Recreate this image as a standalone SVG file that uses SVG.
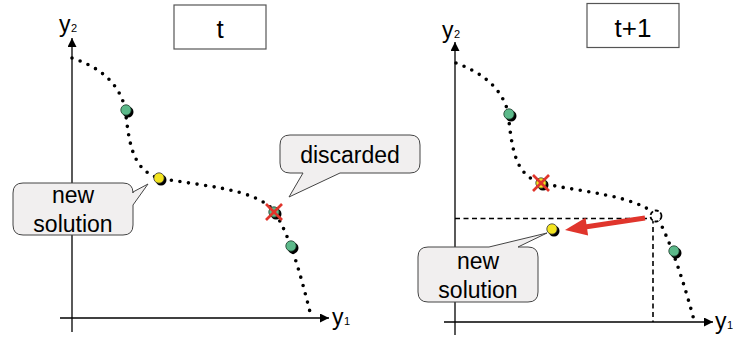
<svg xmlns="http://www.w3.org/2000/svg" width="733" height="338" viewBox="0 0 733 338">
<defs>
<style>
text{font-family:"Liberation Sans",Arial,sans-serif;fill:#000}
.lbl{font-size:23px;text-anchor:middle}
.ax{stroke:#000;stroke-width:1.3;fill:none}
.front{stroke:#000;stroke-width:3.6;fill:none;stroke-linecap:round;stroke-dasharray:0 8.6}
.dash{stroke:#000;stroke-width:1.6;fill:none;stroke-dasharray:5 3.5}
.box{fill:#fff;stroke:#555;stroke-width:1.2}
.call{fill:#f1efef;stroke:#444;stroke-width:1}
.g{fill:#5cb98a;stroke:#1a3a2a;stroke-width:0.8}
.y{fill:#f3e41f;stroke:#333;stroke-width:0.8}
.sh{fill:#000}
.x{stroke:#e0352c;stroke-width:2.6;stroke-linecap:butt}
</style>
<marker id="ah" viewBox="0 0 10 10" refX="10" refY="5" markerWidth="10" markerHeight="9" markerUnits="userSpaceOnUse" orient="auto"><path d="M0,0 L10,5 L0,10 Z" fill="#000"/></marker>
</defs>

<g id="connectors">
<!-- left axes -->
<line class="ax" x1="72" y1="332" x2="72" y2="38" marker-end="url(#ah)"/>
<line class="ax" x1="60" y1="318" x2="329" y2="318" marker-end="url(#ah)"/>
<!-- right axes -->
<line class="ax" x1="455" y1="335" x2="455" y2="42" marker-end="url(#ah)"/>
<line class="ax" x1="444" y1="322" x2="713" y2="322" marker-end="url(#ah)"/>
<!-- fronts -->
<path class="front" d="M72,58 C96,66 118,80 125,108 C129,140 131,170 159,178 C200,186 255,188 274,211 C290,236 300,272 311,316"/>
<path class="front" d="M456,63 C480,72 501,86 508,112 C512,150 515,175 541,183 C580,192 635,195 656,215 C668,236 681,272 694,320"/>
<!-- dominance box -->
<path class="dash" d="M455,218.5 H653 M653,218.5 V322"/>
<!-- red arrow -->
<line x1="645" y1="218" x2="585" y2="227" stroke="#e0352c" stroke-width="5"/>
<polygon points="565,230 585.5,217.8 588.1,235.6" fill="#e0352c"/>
</g>

<g id="axis-labels">
<text x="59" y="32" font-size="23">y</text><text x="71" y="32" font-size="11">2</text>
<text x="332" y="325" font-size="23">y</text><text x="344" y="325" font-size="11">1</text>
<text x="442" y="38" font-size="23">y</text><text x="454" y="38" font-size="11">2</text>
<text x="715" y="329" font-size="23">y</text><text x="727" y="329" font-size="11">1</text>
</g>

<g id="box-t">
<rect class="box" x="174" y="5" width="92" height="44"/>
<text x="220" y="38" font-size="26" text-anchor="middle">t</text>
</g>
<g id="box-t1">
<rect class="box" x="587" y="3.5" width="92" height="44"/>
<text x="633" y="37" font-size="26" text-anchor="middle">t+1</text>
</g>

<!-- left points -->
<g id="left-p1"><circle class="sh" cx="128" cy="112" r="5.5"/><circle class="g" cx="126" cy="110" r="5.2"/></g>
<g id="left-new"><circle class="sh" cx="161" cy="180" r="5.5"/><circle class="y" cx="159" cy="178" r="5.2"/></g>
<g id="left-discarded-pt"><circle class="sh" cx="276" cy="214" r="5.5"/><circle class="g" cx="274" cy="212" r="5.2"/>
<line class="x" x1="266" y1="204" x2="282" y2="220"/><line class="x" x1="282" y1="204" x2="266" y2="220"/></g>
<g id="left-p4"><circle class="sh" cx="293" cy="248" r="5.5"/><circle class="g" cx="291" cy="246" r="5.2"/></g>

<!-- right points -->
<g id="right-p1"><circle class="sh" cx="511" cy="116" r="5.5"/><circle class="g" cx="509" cy="114" r="5.2"/></g>
<g id="right-discarded"><circle class="sh" cx="543" cy="185" r="5.5"/><circle class="y" cx="541" cy="183" r="5.2"/>
<line class="x" x1="533" y1="175" x2="549" y2="191"/><line class="x" x1="549" y1="175" x2="533" y2="191"/></g>
<g id="right-old"><circle cx="656" cy="216" r="5.5" fill="#fff" stroke="#000" stroke-width="1.8" stroke-dasharray="4 2"/></g>
<g id="right-p4"><circle class="sh" cx="676" cy="253" r="5.5"/><circle class="g" cx="674" cy="251" r="5.2"/></g>
<g id="right-new"><circle class="sh" cx="554" cy="231" r="5.5"/><circle class="y" cx="552" cy="229" r="5.2"/></g>

<!-- callouts -->
<g id="callout-new-left">
<path class="call" d="M23,183 H123 Q133,183 133,193 V192 L148,184 L133,205 V225 Q133,235 123,235 H23 Q13,235 13,225 V193 Q13,183 23,183 Z"/>
<text class="lbl" x="73" y="203">new</text>
<text class="lbl" x="73" y="232">solution</text>
</g>
<g id="callout-discarded">
<path class="call" d="M290,135 H410 Q420,135 420,145 V163 Q420,173 410,173 H340 L289,197 L303,173 H290 Q280,173 280,163 V145 Q280,135 290,135 Z"/>
<text class="lbl" x="350" y="163">discarded</text>
</g>
<g id="callout-new-right">
<path class="call" d="M428,247 H489 L547,233 L518,247 H528 Q538,247 538,257 V292 Q538,302 528,302 H428 Q418,302 418,292 V257 Q418,247 428,247 Z"/>
<text class="lbl" x="478" y="269">new</text>
<text class="lbl" x="478" y="298">solution</text>
</g>
</svg>
